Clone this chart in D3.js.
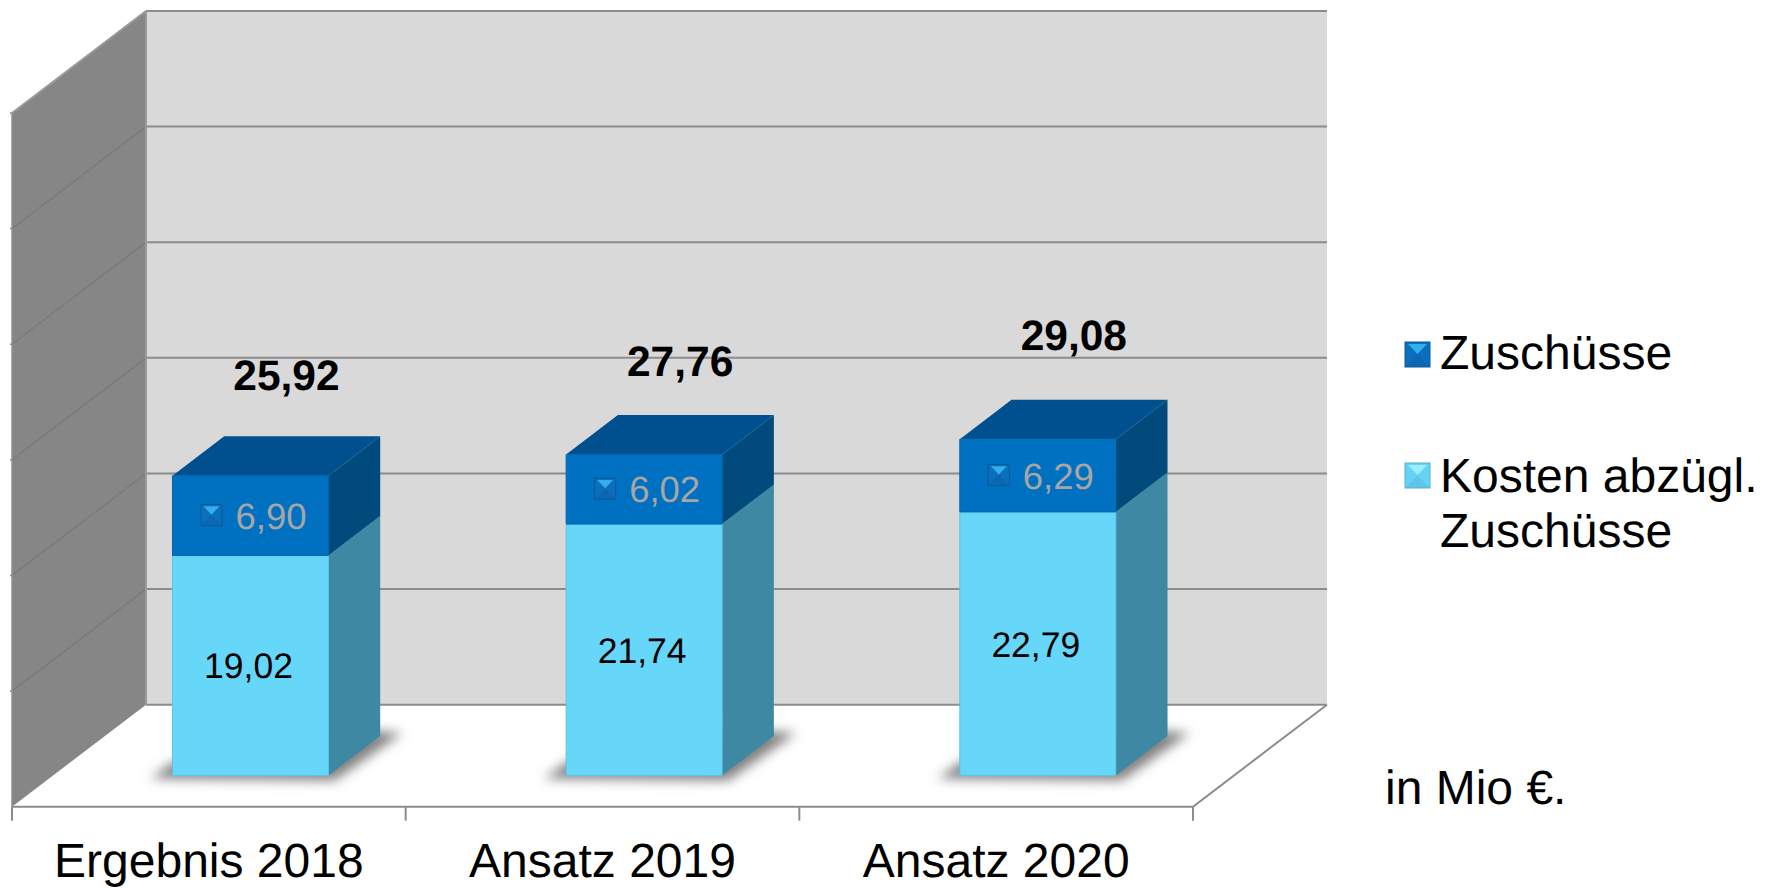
<!DOCTYPE html>
<html>
<head>
<meta charset="utf-8">
<script src="https://cdn.jsdelivr.net/npm/d3@7"></script>
<style>
  html, body { margin: 0; padding: 0; background: #fff; }
  svg { display: block; }
  text { font-family: "Liberation Sans", Arial, sans-serif; text-rendering: geometricPrecision; }
</style>
</head>
<body>
<svg id="chart" width="1773" height="888"></svg>
<script>
const categories = ['Ergebnis 2018', 'Ansatz 2019', 'Ansatz 2020'];
const kosten = [19.02, 21.74, 22.79];
const zuschuesse = [6.90, 6.02, 6.29];
const totals = [25.92, 27.76, 29.08];
const valueTicks = [0, 10, 20, 30, 40, 50, 60];

// the total labels were hand placed in the original, not at a fixed distance
const totalNudge = [-1.5, 6, -5];

const fmt = (v) => v.toFixed(2).replace('.', ',');

const svg = d3.select('#chart');
const defs = svg.append('defs');

defs
  .append('filter')
  .attr('id', 'shadowBlur')
  .attr('x', '-20%')
  .attr('y', '-40%')
  .attr('width', '140%')
  .attr('height', '180%')
  .append('feGaussianBlur')
  .attr('stdDeviation', 6);

// front plane of the box, the depth is an oblique offset
const x = d3.scaleBand().domain(categories).range([12, 1193]);
const y = d3.scaleLinear().domain([0, 60]).range([806.7, 113]);
const depthX = 134;
const depthY = -102;
const barWidth = 156;
const depthFront = 0.307;
const depthBack = 0.693;

const pt = (px, value, d) => [px + depthX * d, y(value) + depthY * d];
const poly = (points) => d3.line()(points) + 'Z';

// walls and floor
const g = svg.append('g');
const right = x.range()[1];
const left = x.range()[0];

g.append('path')
  .attr('d', poly([pt(left, 0, 1), pt(right, 0, 1), pt(right, 60, 1), pt(left, 60, 1)]))
  .attr('fill', '#d9d9d9');

g.append('path')
  .attr('d', poly([pt(left, 0, 0), pt(left, 0, 1), pt(left, 60, 1), pt(left, 60, 0)]))
  .attr('fill', '#868686');

// gridlines
valueTicks.forEach((t) => {
  const [bx, by] = pt(left, t, 1);
  const [ex, ey] = pt(right, t, 1);
  const [sx, sy] = pt(left, t, 0);
  g.append('line')
    .attr('x1', bx).attr('y1', by).attr('x2', ex).attr('y2', ey)
    .attr('stroke', '#8c8c8c')
    .attr('stroke-width', 2);
  if (t > 0) {
    g.append('line')
      .attr('x1', sx).attr('y1', sy).attr('x2', bx).attr('y2', by)
      .attr('stroke', t === 60 ? '#9a9a9a' : '#7b7b7b')
      .attr('stroke-width', t === 60 ? 2 : 1.5);
    g.append('line')
      .attr('x1', sx - 2).attr('y1', sy).attr('x2', sx).attr('y2', sy)
      .attr('stroke', '#8c8c8c')
      .attr('stroke-width', 1.5);
  }
});

g.append('line')
  .attr('x1', pt(left, 0, 1)[0]).attr('y1', pt(left, 0, 1)[1])
  .attr('x2', pt(left, 60, 1)[0]).attr('y2', pt(left, 60, 1)[1])
  .attr('stroke', '#9a9a9a')
  .attr('stroke-width', 2);

g.append('line')
  .attr('x1', left).attr('y1', y(0))
  .attr('x2', left).attr('y2', y(60))
  .attr('stroke', '#8f8f8f')
  .attr('stroke-width', 1.5);

// floor edges
g.append('path')
  .attr('d', d3.line()([pt(left, 0, 0), pt(right, 0, 0), pt(right, 0, 1)]))
  .attr('fill', 'none')
  .attr('stroke', '#8c8c8c')
  .attr('stroke-width', 2);

const tickEdges = categories.map((c) => x(c)).concat(right);
g.selectAll('line.tick-edge')
  .data(tickEdges)
  .join('line')
  .attr('class', 'tick-edge')
  .attr('x1', (d) => d)
  .attr('x2', (d) => d)
  .attr('y1', y(0))
  .attr('y2', y(0) + 14)
  .attr('stroke', '#8c8c8c')
  .attr('stroke-width', 2);

// category labels
const axis = svg
  .append('g')
  .attr('transform', `translate(0,${y(0)})`)
  .call(d3.axisBottom(x).tickSize(0).tickPadding(36));
axis.select('.domain').remove();
axis
  .selectAll('text')
  .attr('font-family', '"Liberation Sans", Arial, sans-serif')
  .attr('font-size', 48)
  .attr('fill', '#000');

// bars
const bars = categories.map((c, i) => ({
  x0: x(c) + (x.bandwidth() - barWidth) / 2 + 0.5,
  kosten: kosten[i],
  top: kosten[i] + zuschuesse[i],
  zuschuss: zuschuesse[i],
  total: totals[i],
  nudge: totalNudge[i],
}));

const barG = svg.append('g');

bars.forEach((b) => {
  const fl = pt(b.x0, 0, depthFront);
  const fr = pt(b.x0 + barWidth, 0, depthFront);
  const br = pt(b.x0 + barWidth, 0, depthBack);
  barG
    .append('path')
    .attr('d', poly([
      [fl[0] - 22, fl[1] + 3],
      [fl[0] + 2, fl[1] - 14],
      [br[0] - 8, br[1] - 5],
      [br[0] + 22, br[1] - 3],
      [fr[0] + 6, fr[1] + 5],
    ]))
    .attr('fill', '#808080')
    .attr('filter', 'url(#shadowBlur)');
});

const segment = (b, v0, v1, front, side, top) => {
  const xl = b.x0;
  const xr = b.x0 + barWidth;
  barG.append('path')
    .attr('d', poly([pt(xr, v0, depthFront), pt(xr, v0, depthBack), pt(xr, v1, depthBack), pt(xr, v1, depthFront)]))
    .attr('fill', side);
  if (top) {
    barG.append('path')
      .attr('d', poly([pt(xl, v1, depthFront), pt(xr, v1, depthFront), pt(xr, v1, depthBack), pt(xl, v1, depthBack)]))
      .attr('fill', top);
  }
  barG.append('path')
    .attr('d', poly([pt(xl, v0, depthFront), pt(xr, v0, depthFront), pt(xr, v1, depthFront), pt(xl, v1, depthFront)]))
    .attr('fill', front)
    .attr('stroke', d3.color(front).darker(0.25))
    .attr('stroke-width', 1);
};

bars.forEach((b) => {
  segment(b, 0, b.kosten, '#66d6f9', '#3f88a3', null);
  segment(b, b.kosten, b.top, '#0070c0', '#004a7c', '#005090');
});

// small bevelled square used in the labels and the legend
function marker(parent, mx, my, size, c) {
  const m = size / 2;
  const s = parent.append('g').attr('transform', `translate(${mx},${my})`);
  const tri = (pts, fill) => s.append('path').attr('d', poly(pts)).attr('fill', fill);
  tri([[0, 0], [size, 0], [size, size], [0, size]], c.base);
  tri([[0, size], [m, m], [size, size]], c.bottom);
  tri([[size * 0.12, size * 0.08], [size * 0.88, size * 0.08], [m, size * 0.48]], c.top);
  s.append('rect')
    .attr('x', 0).attr('y', 0).attr('width', size).attr('height', size)
    .attr('fill', 'none')
    .attr('stroke', c.edge)
    .attr('stroke-width', 1);
}

const blueMarker = { base: '#0a6fbe', top: '#35aef0', bottom: '#0c66b0', edge: '#0f5a98' };
const lightMarker = { base: '#66d3f6', top: '#9aeeff', bottom: '#5cc6ea', edge: '#5fafc9' };

const labels = svg.append('g');

bars.forEach((b) => {
  const fc = b.x0 + barWidth / 2 + depthX * depthFront;
  const yTop = y(b.top) + depthY * depthFront;
  const yMid = y(b.kosten) + depthY * depthFront;
  const yBase = y(0) + depthY * depthFront;

  labels.append('text')
    .attr('x', fc - 2)
    .attr('y', (yMid + yBase) / 2 + 13)
    .attr('text-anchor', 'middle')
    .attr('font-size', 35.5)
    .attr('fill', '#000')
    .text(fmt(b.kosten));

  const fl = b.x0 + depthX * depthFront;
  marker(labels, fl + 28.5, (yTop + yMid) / 2 - 11, 21, blueMarker);
  labels.append('text')
    .attr('x', fl + 63)
    .attr('y', (yTop + yMid) / 2 + 13)
    .attr('font-size', 36.5)
    .attr('fill', '#a6a6a6')
    .text(fmt(b.zuschuss));

  labels.append('text')
    .attr('x', fc + 36)
    .attr('y', yTop - 84 + b.nudge)
    .attr('text-anchor', 'middle')
    .attr('font-size', 42.5)
    .attr('font-weight', 'bold')
    .attr('fill', '#000')
    .text(fmt(b.total));
});

// legend
const legend = svg.append('g');
marker(legend, 1405, 342, 25, blueMarker);
marker(legend, 1405, 463, 25, lightMarker);

const legendLines = [
  { text: 'Zuschüsse', lx: 1440, ly: 369 },
  { text: 'Kosten abzügl.', lx: 1440, ly: 492 },
  { text: 'Zuschüsse', lx: 1440, ly: 547 },
  { text: 'in Mio €.', lx: 1385, ly: 804 },
];
legend
  .selectAll('text')
  .data(legendLines)
  .join('text')
  .attr('x', (d) => d.lx)
  .attr('y', (d) => d.ly)
  .attr('font-size', 48)
  .attr('fill', '#000')
  .text((d) => d.text);
</script>
</body>
</html>
